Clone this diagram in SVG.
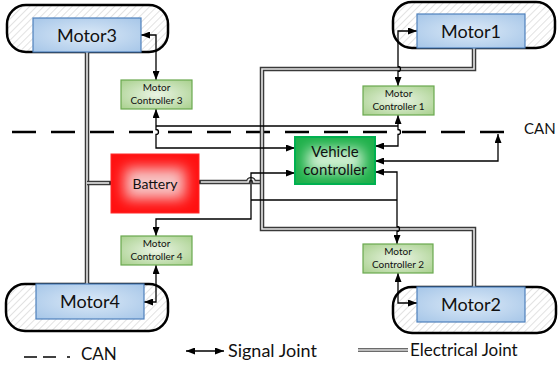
<svg xmlns="http://www.w3.org/2000/svg" width="558" height="368" viewBox="0 0 558 368">
<defs>
  <pattern id="hatch" width="5" height="5" patternUnits="userSpaceOnUse" patternTransform="rotate(45)">
    <rect width="5" height="5" fill="#fff"/>
    <line x1="0" y1="0" x2="0" y2="5" stroke="#b8b8b8" stroke-width="0.8"/>
  </pattern>
  <radialGradient id="gMotor" cx="50%" cy="50%" r="70%">
    <stop offset="0" stop-color="#dbe9f7"/>
    <stop offset="1" stop-color="#a6c6e8"/>
  </radialGradient>
  <radialGradient id="gMC" cx="50%" cy="50%" r="70%">
    <stop offset="0" stop-color="#eaf4e4"/>
    <stop offset="1" stop-color="#a8d08d"/>
  </radialGradient>
  <filter id="soft" x="-60%" y="-60%" width="220%" height="220%">
    <feGaussianBlur stdDeviation="7"/>
  </filter>
  <clipPath id="clipBat"><rect x="111" y="154" width="88" height="59"/></clipPath>
  <clipPath id="clipVC"><rect x="295" y="137" width="80" height="47"/></clipPath>
  <marker id="arr" viewBox="0 0 9 7" refX="9" refY="3.5" markerWidth="9" markerHeight="7" markerUnits="userSpaceOnUse" orient="auto-start-reverse">
    <path d="M0,0 L9,3.5 L0,7 z" fill="#000"/>
  </marker>
  <path id="e1" d="M87,52 V284"/>
  <path id="e2" d="M87,183 H111"/>
  <path id="e3" d="M199,182 H248 a3,3 0 0 1 6,0 H262"/>
  <path id="e4" d="M474,48 V69 H262 V229 H474 V287"/>
  <path id="eL" d="M358,350 H408"/>
</defs>
<style>
  .wheel { fill: url(#hatch); stroke: #000; stroke-width: 2.5; }
  .motor { fill: url(#gMotor); stroke: #4f81bd; stroke-width: 1.2; }
  .mc { fill: url(#gMC); stroke: #6aa84f; stroke-width: 1.2; }
  .t { font-family: Lato, "Open Sans", sans-serif; fill: #111; text-anchor: middle; }
  .tm { font-size: 18px; }
  .ts { font-size: 10px; }
  .sig { fill: none; stroke: #000; stroke-width: 1.3; }
  .arrows { marker-start: url(#arr); marker-end: url(#arr); }
  .eo { fill: none; stroke: #3a3a3a; stroke-width: 4.5; stroke-linejoin: miter; }
  .ei { fill: none; stroke: #e8e8e8; stroke-width: 1.6; stroke-linejoin: miter; }
  .can { fill: none; stroke: #000; stroke-width: 2.5; stroke-dasharray: 24 15; }
  .leg { font-family: Lato, "Open Sans", sans-serif; font-size: 17px; fill: #111; }
</style>

<g id="wheel3"><rect class="wheel" x="7" y="5" width="161" height="47" rx="19"/></g>
<g id="wheel1"><rect class="wheel" x="393" y="2" width="162" height="46" rx="19"/></g>
<g id="wheel4"><rect class="wheel" x="6" y="284" width="162" height="47" rx="19"/></g>
<g id="wheel2"><rect class="wheel" x="393" y="287" width="163" height="46" rx="19"/></g>

<line class="can" x1="12" y1="132" x2="505" y2="132"/>

<g id="connectors">
  <use href="#e1" class="eo"/><use href="#e1" class="ei"/>
  <use href="#e2" class="eo"/><use href="#e2" class="ei"/>
  <use href="#e3" class="eo"/><use href="#e3" class="ei"/>
  <use href="#e4" class="eo"/><use href="#e4" class="ei"/>
  <circle cx="111" cy="183" r="1.8" fill="#000"/>
  <circle cx="199" cy="182" r="1.8" fill="#000"/>
  <path class="sig arrows" d="M141,35 H156 V80"/>
  <path class="sig arrows" d="M156,109 V129.5 a2.5,2.5 0 0 1 0,5 V148 H295"/>
  <path class="sig" d="M156,126 H398"/>
  <path class="sig arrows" d="M398,115 V129.5 a2.5,2.5 0 0 1 0,5 V146 H375"/>
  <path class="sig arrows" d="M398,86 V71.5 a2.5,2.5 0 0 0 0,-5 V31 H417"/>
  <path class="sig arrows" d="M498,134 V161 H375"/>
  <path class="sig arrows" d="M375,172 H397 V226.5 a2.5,2.5 0 0 1 0,5 V244"/>
  <path class="sig arrows" d="M398,273 V303 H417"/>
  <path class="sig arrows" d="M156,265 V302 H144"/>
  <path class="sig arrows" d="M295,173 H251 V219 H156 V236"/>
  <path class="sig" d="M251,200 H397" stroke="#333"/>
</g>

<g id="motor3"><rect class="motor" x="33" y="18" width="108" height="34"/><text class="t tm" x="87" y="42">Motor3</text></g>
<g id="motor1"><rect class="motor" x="417" y="14" width="108" height="34"/><text class="t tm" x="471" y="38">Motor1</text></g>
<g id="motor4"><rect class="motor" x="36" y="284" width="108" height="35"/><text class="t tm" x="90" y="308">Motor4</text></g>
<g id="motor2"><rect class="motor" x="417" y="287" width="108" height="35"/><text class="t tm" x="471" y="311">Motor2</text></g>

<g id="mc3"><rect class="mc" x="121" y="80" width="71" height="29"/><text class="t ts" x="156.5" y="91">Motor</text><text class="t ts" x="156.5" y="104">Controller 3</text></g>
<g id="mc1"><rect class="mc" x="363" y="86" width="71" height="29"/><text class="t ts" x="398.5" y="97">Motor</text><text class="t ts" x="398.5" y="110">Controller 1</text></g>
<g id="mc4"><rect class="mc" x="121" y="236" width="71" height="29"/><text class="t ts" x="156.5" y="247">Motor</text><text class="t ts" x="156.5" y="260">Controller 4</text></g>
<g id="mc2"><rect class="mc" x="363" y="244" width="70" height="29"/><text class="t ts" x="398" y="255">Motor</text><text class="t ts" x="398" y="268">Controller 2</text></g>

<g id="battery">
  <rect x="111" y="154" width="88" height="59" fill="#ff1010"/>
  <g clip-path="url(#clipBat)"><rect x="125" y="168" width="60" height="31" fill="#f7c4c4" filter="url(#soft)"/></g>
  <rect x="111" y="154" width="88" height="59" fill="none" stroke="#ff2a2a" stroke-width="1"/>
  <text class="t" x="155" y="189" font-size="14">Battery</text>
</g>

<g id="vehicle-controller">
  <rect x="295" y="137" width="80" height="47" fill="#1eb04a"/>
  <g clip-path="url(#clipVC)"><rect x="307" y="149" width="56" height="23" fill="#d6f2d6" filter="url(#soft)"/></g>
  <rect x="295" y="137" width="80" height="47" fill="none" stroke="#00b050" stroke-width="2"/>
  <text class="t" x="335" y="157" font-size="15">Vehicle</text>
  <text class="t" x="335" y="175" font-size="15">controller</text>
</g>

<text class="leg" x="524" y="134" style="font-size:15px">CAN</text>

<g id="legend">
  <line x1="24" y1="357" x2="37" y2="357" stroke="#000" stroke-width="1.5"/>
  <line x1="43" y1="357" x2="56" y2="357" stroke="#000" stroke-width="1.5"/>
  <line x1="67" y1="357" x2="70" y2="357" stroke="#000" stroke-width="1.5"/>
  <text class="leg" x="81" y="360">CAN</text>
  <line class="arrows" x1="186" y1="351" x2="224" y2="351" stroke="#000" stroke-width="1.3"/>
  <text class="leg" x="228" y="357" style="font-size:18px">Signal Joint</text>
  <use href="#eL" class="eo" style="stroke-width:3.5"/><use href="#eL" class="ei" style="stroke-width:1.3"/>
  <text class="leg" x="410" y="356">Electrical Joint</text>
</g>
</svg>
